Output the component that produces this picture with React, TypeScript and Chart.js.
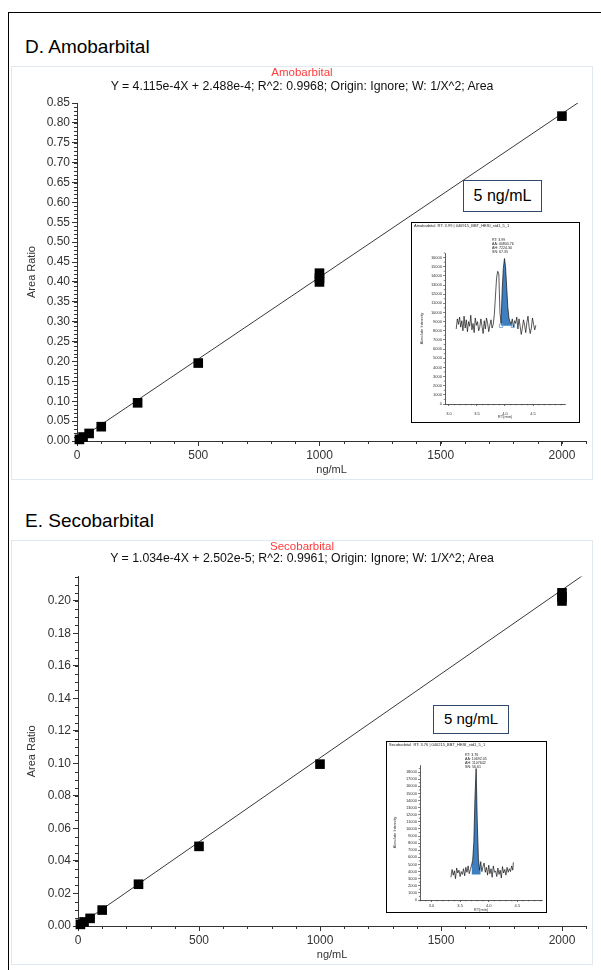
import React, { useEffect, useRef } from 'react';
import { Chart, registerables } from 'chart.js';
Chart.register(...registerables);

const FONT = '"Liberation Sans", Arial, Helvetica, sans-serif';
const AXIS = '#333';

// ---------- D. Amobarbital calibration ----------
const amoConc = [10, 25, 50, 100, 250, 500, 1000, 1000, 1000, 2000];
const amoRatio = [0.004, 0.010, 0.019, 0.036, 0.096, 0.196, 0.400, 0.410, 0.422, 0.817];
const amoFitX = [0, 2100];
const amoFitY = [0.000249, 0.864399];
const amoYTicks = [0, 0.05, 0.1, 0.15, 0.2, 0.25, 0.3, 0.35, 0.4, 0.45, 0.5, 0.55, 0.6, 0.65, 0.7, 0.75, 0.8, 0.85];
const calXTicks = [0, 500, 1000, 1500, 2000];

// ---------- E. Secobarbital calibration ----------
const secoConc = [10, 25, 50, 100, 250, 500, 1000, 2000, 2000, 2000];
const secoRatio = [0.001, 0.0025, 0.0047, 0.0098, 0.0257, 0.049, 0.0996, 0.200, 0.2025, 0.205];
const secoFitX = [0, 2100];
const secoFitY = [0.000025, 0.217165];
const secoYTicks = [0, 0.02, 0.04, 0.06, 0.08, 0.1, 0.12, 0.14, 0.16, 0.18, 0.2];

// ---------- Inset chromatogram: Amobarbital 5 ng/mL ----------
const amoRT = [3.13, 3.15, 3.17, 3.19, 3.21, 3.23, 3.25, 3.27, 3.29, 3.31, 3.33, 3.35, 3.37, 3.39, 3.41, 3.43, 3.45, 3.47, 3.49, 3.51, 3.53, 3.55, 3.57, 3.59, 3.61, 3.63, 3.65, 3.67, 3.69, 3.71, 3.73, 3.75, 3.77, 3.79, 3.81, 3.83, 3.85, 3.87, 3.89, 3.91, 3.93, 3.95, 3.97, 3.99, 4.01, 4.03, 4.05, 4.07, 4.09, 4.11, 4.13, 4.15, 4.17, 4.19, 4.21, 4.23, 4.25, 4.27, 4.29, 4.31, 4.33, 4.35, 4.37, 4.39, 4.41, 4.43, 4.45, 4.47, 4.49, 4.51, 4.53, 4.55];
const amoInt = [8200, 9300, 8700, 9500, 8400, 9100, 8000, 9600, 8300, 9200, 7900, 9000, 8500, 9700, 8100, 8800, 7800, 9400, 8600, 9000, 8000, 8400, 9300, 8500, 7700, 9100, 8200, 9400, 8800, 7900, 8600, 9200, 8300, 8700, 9800, 11800, 13800, 14500, 14200, 10000, 8800, 12500, 14800, 15900, 15000, 12800, 10600, 9400, 9000, 8700, 9300, 8400, 9100, 8800, 9500, 8200, 9300, 8500, 7600, 8300, 9200, 8600, 7800, 8900, 9600, 8400, 7700, 8300, 9400, 8700, 8100, 8600];
const amoPeakRT = [3.93, 3.95, 3.97, 3.99, 4.01, 4.03, 4.05, 4.07, 4.09, 4.11, 4.13];
const amoPeakInt = [8800, 12500, 14800, 15900, 15000, 12800, 10600, 9400, 9000, 8700, 9300];
const amoPeakBase = 8550;
const amoMarkRT = [3.93, 4.14];
const amoMarkInt = [8550, 8550];
const amoInsetYTicks = [0, 1000, 2000, 3000, 4000, 5000, 6000, 7000, 8000, 9000, 10000, 11000, 12000, 13000, 14000, 15000, 16000];
const insetXTicks = [3.0, 3.5, 4.0, 4.5];
const amoHeader = 'Amobarbital  RT: 3.99 | 040915_BBT_HESI_std1_5_1';
const amoNotes = ['RT: 3.99', 'AA: 40800.76', 'AH: 7224.30', 'SN: 67.35'];

// ---------- Inset chromatogram: Secobarbital 5 ng/mL ----------
const secoRT = [3.34, 3.36, 3.38, 3.40, 3.42, 3.44, 3.46, 3.48, 3.50, 3.52, 3.54, 3.56, 3.58, 3.60, 3.62, 3.64, 3.66, 3.68, 3.70, 3.72, 3.74, 3.76, 3.78, 3.80, 3.82, 3.84, 3.86, 3.88, 3.90, 3.92, 3.94, 3.96, 3.98, 4.00, 4.02, 4.04, 4.06, 4.08, 4.10, 4.12, 4.14, 4.16, 4.18, 4.20, 4.22, 4.24, 4.26, 4.28, 4.30, 4.32, 4.34, 4.36, 4.38, 4.40, 4.42, 4.43];
const secoInt = [3200, 4300, 3500, 4100, 3000, 4500, 3800, 4200, 3300, 4000, 3600, 4400, 3400, 4600, 3900, 4800, 3700, 4300, 4900, 5600, 8200, 14500, 18500, 11000, 5800, 4200, 5400, 4000, 4700, 5200, 3900, 4600, 3500, 4900, 3700, 4400, 3200, 4800, 3900, 4100, 3300, 4500, 3600, 4200, 3100, 4700, 3800, 4300, 3500, 4600, 3900, 4400, 4000, 4800, 4200, 5300];
const secoPeakRT = [3.70, 3.72, 3.74, 3.76, 3.78, 3.80, 3.82, 3.84, 3.86];
const secoPeakInt = [4900, 5600, 8200, 14500, 18500, 11000, 5800, 4200, 5400];
const secoPeakBase = 3600;
const secoInsetYTicks = [0, 1000, 2000, 3000, 4000, 5000, 6000, 7000, 8000, 9000, 10000, 11000, 12000, 13000, 14000, 15000, 16000, 17000, 18000];
const secoHeader = 'Secobarbital  RT: 3.76 | 040215_BBT_HESI_std1_5_1';
const secoNotes = ['RT: 3.76', 'AA: 10692.05', 'AH: 1107642', 'SN: 56.61'];

const pts = (xs: number[], ys: number[]) => xs.map((x, i) => ({ x, y: ys[i] }));

type CalParams = {
  conc: number[]; ratio: number[]; fitX: number[]; fitY: number[];
  yMax: number; yTicks: number[]; yMinorStep: number;
  padTop: number; padRight: number; yWidth: number; xHeight: number;
};

function buildCal(canvas: HTMLCanvasElement, p: CalParams) {
  const minor = {
    id: 'minorTicks',
    beforeDatasetsDraw(chart: any) {
      const { ctx } = chart;
      const xs = chart.scales.x, ys = chart.scales.y;
      ctx.save();
      ctx.strokeStyle = AXIS;
      ctx.lineWidth = 1;
      ctx.beginPath();
      for (let i = 0; i <= 21; i++) {
        const px = Math.round(xs.getPixelForValue(i * 100)) + 0.5;
        ctx.moveTo(px, xs.top);
        ctx.lineTo(px, xs.top + 3);
      }
      const n = Math.round(p.yMax / p.yMinorStep + 1e-6);
      for (let i = 0; i <= n; i++) {
        const py = Math.round(ys.getPixelForValue(i * p.yMinorStep)) + 0.5;
        ctx.moveTo(ys.right - 3, py);
        ctx.lineTo(ys.right, py);
      }
      ctx.stroke();
      ctx.restore();
    },
  };
  return new Chart(canvas, {
    type: 'scatter',
    data: {
      datasets: [
        {
          data: pts(p.fitX, p.fitY),
          showLine: true,
          borderColor: '#3a3a3a',
          borderWidth: 1,
          pointRadius: 0,
          order: 2,
        },
        {
          data: pts(p.conc, p.ratio),
          pointStyle: 'rect',
          pointRadius: 6.8,
          backgroundColor: '#000',
          borderColor: '#000',
          borderWidth: 0,
          clip: false,
          order: 1,
        },
      ],
    },
    options: {
      animation: false,
      responsive: false,
      events: [],
      layout: { padding: { left: 0, right: p.padRight, top: p.padTop, bottom: 0 } },
      plugins: { legend: { display: false }, tooltip: { enabled: false } },
      scales: {
        x: {
          type: 'linear',
          min: 0,
          max: 2100,
          afterBuildTicks: (s: any) => { s.ticks = calXTicks.map((v) => ({ value: v })); },
          afterFit: (s: any) => { s.height = p.xHeight; },
          grid: { drawOnChartArea: false, drawTicks: true, tickLength: 5, color: AXIS },
          border: { display: true, color: AXIS, width: 1 },
          ticks: { font: { family: FONT, size: 12 }, color: '#333', padding: 2, maxRotation: 0, autoSkip: false, callback: (v: any) => String(v) },
          title: { display: true, text: 'ng/mL', font: { family: FONT, size: 11 }, color: '#333', padding: { top: 0, bottom: 3 } },
        },
        y: {
          type: 'linear',
          min: 0,
          max: p.yMax,
          afterBuildTicks: (s: any) => { s.ticks = p.yTicks.map((v) => ({ value: v })); },
          afterFit: (s: any) => { s.width = p.yWidth; },
          grid: { drawOnChartArea: false, drawTicks: true, tickLength: 5, color: AXIS },
          border: { display: true, color: AXIS, width: 1 },
          ticks: { font: { family: FONT, size: 12 }, color: '#333', padding: 2, autoSkip: false, callback: (v: any) => Number(v).toFixed(2) },
          title: { display: true, text: 'Area Ratio', font: { family: FONT, size: 11 }, color: '#333', padding: { top: 14, bottom: 0 } },
        },
      },
    },
    plugins: [minor],
  } as any);
}

type InsetParams = {
  rt: number[]; inten: number[]; peakRT: number[]; peakInt: number[]; base: number;
  markRT: number[]; markInt: number[];
  xMin: number; xMax: number; yMax: number; yTicks: number[];
  padTop: number; padRight: number; yWidth: number; xHeight: number;
  xTickPad: number; xTitlePad: number; yTitlePad: number;
  header: string; headerY: number; notes: string[]; notesX: number; notesY: number;
};

function buildInset(canvas: HTMLCanvasElement, p: InsetParams) {
  const deco = {
    id: 'insetDeco',
    beforeDatasetsDraw(chart: any) {
      const { ctx } = chart;
      const xs = chart.scales.x, ys = chart.scales.y;
      ctx.save();
      ctx.strokeStyle = AXIS;
      ctx.lineWidth = 0.6;
      ctx.beginPath();
      for (let v = Math.ceil(p.xMin * 10) / 10; v <= p.xMax + 1e-6; v += 0.1) {
        const px = xs.getPixelForValue(v);
        ctx.moveTo(px, xs.top);
        ctx.lineTo(px, xs.top + 1.3);
      }
      for (let v = 500; v <= p.yMax; v += 1000) {
        const py = ys.getPixelForValue(v);
        ctx.moveTo(ys.right - 1.2, py);
        ctx.lineTo(ys.right, py);
      }
      ctx.stroke();
      ctx.restore();
    },
    afterDraw(chart: any) {
      const { ctx } = chart;
      ctx.save();
      ctx.fillStyle = '#222';
      ctx.textBaseline = 'middle';
      ctx.font = `4px ${FONT}`;
      ctx.fillText(p.header, 2, p.headerY);
      ctx.font = `3.6px ${FONT}`;
      p.notes.forEach((t, i) => ctx.fillText(t, p.notesX, p.notesY + i * 4));
      ctx.restore();
    },
  };
  return new Chart(canvas, {
    type: 'line',
    data: {
      datasets: [
        {
          data: pts(p.rt, p.inten),
          borderColor: '#111',
          borderWidth: 0.7,
          pointRadius: 0,
          tension: 0,
          fill: false,
          order: 0,
        },
        {
          data: pts(p.peakRT, p.peakInt),
          borderColor: 'rgba(0,0,0,0)',
          borderWidth: 0,
          backgroundColor: '#3f7fc0',
          pointRadius: 0,
          tension: 0,
          fill: { value: p.base },
          order: 1,
        },
        {
          data: pts(p.markRT, p.markInt),
          showLine: false,
          pointStyle: 'rect',
          pointRadius: 2.4,
          borderColor: '#5b9bd5',
          backgroundColor: 'rgba(255,255,255,0)',
          borderWidth: 0.8,
          order: -1,
        },
      ],
    },
    options: {
      animation: false,
      responsive: false,
      events: [],
      layout: { padding: { left: 0, right: p.padRight, top: p.padTop, bottom: 0 } },
      plugins: { legend: { display: false }, tooltip: { enabled: false } },
      scales: {
        x: {
          type: 'linear',
          min: p.xMin,
          max: p.xMax,
          afterBuildTicks: (s: any) => { s.ticks = insetXTicks.map((v) => ({ value: v })); },
          afterFit: (s: any) => { s.height = p.xHeight; },
          grid: { drawOnChartArea: false, drawTicks: true, tickLength: 2, color: AXIS, lineWidth: 0.6 },
          border: { display: true, color: AXIS, width: 0.8 },
          ticks: { font: { family: FONT, size: 4 }, color: '#333', padding: p.xTickPad, maxRotation: 0, autoSkip: false, callback: (v: any) => Number(v).toFixed(1) },
          title: { display: true, text: 'RT(min)', font: { family: FONT, size: 4 }, color: '#333', padding: { top: 0, bottom: p.xTitlePad } },
        },
        y: {
          type: 'linear',
          min: 0,
          max: p.yMax,
          afterBuildTicks: (s: any) => { s.ticks = p.yTicks.map((v) => ({ value: v })); },
          afterFit: (s: any) => { s.width = p.yWidth; },
          grid: { drawOnChartArea: false, drawTicks: true, tickLength: 2, color: AXIS, lineWidth: 0.6 },
          border: { display: true, color: AXIS, width: 0.8 },
          ticks: { font: { family: FONT, size: 4 }, color: '#333', padding: 1, autoSkip: false, callback: (v: any) => String(v) },
          title: { display: true, text: 'Absolute Intensity', font: { family: FONT, size: 4 }, color: '#333', padding: { top: p.yTitlePad, bottom: 0 } },
        },
      },
    },
    plugins: [deco],
  } as any);
}

function ChartCanvas({ left, top, width, height, build }: { left: number; top: number; width: number; height: number; build: (c: HTMLCanvasElement) => Chart }) {
  const ref = useRef<HTMLCanvasElement>(null);
  useEffect(() => {
    const c = build(ref.current as HTMLCanvasElement);
    return () => c.destroy();
  }, []);
  return <canvas ref={ref} width={width} height={height} style={{ position: 'absolute', left, top, width, height, display: 'block' }} />;
}

const abs = (left: number, top: number, extra: React.CSSProperties = {}): React.CSSProperties => ({ position: 'absolute', left, top, ...extra });

export default function App() {
  return (
    <div style={{ position: 'fixed', left: 0, top: 0, width: 601, height: 970, overflow: 'hidden', background: '#fff', fontFamily: FONT, color: '#000' }}>
      <div style={abs(8, 12, { width: 700, height: 1000, borderLeft: '1.5px solid #000', borderTop: '1.5px solid #000' })} />

      {/* Panel D */}
      <div style={abs(25, 35, { fontSize: 19, lineHeight: '24px', whiteSpace: 'nowrap' })}>D. Amobarbital</div>
      <div style={abs(11, 66, { width: 582, height: 414, border: '1px solid #e2e8f0', boxSizing: 'border-box' })} />
      <ChartCanvas left={11} top={66} width={582} height={414} build={(c) => buildCal(c, {
        conc: amoConc, ratio: amoRatio, fitX: amoFitX, fitY: amoFitY,
        yMax: 0.85, yTicks: amoYTicks, yMinorStep: 0.01,
        padTop: 37, padRight: 6, yWidth: 66, xHeight: 39,
      })} />
      <div style={abs(11, 66, { width: 582, textAlign: 'center', fontSize: 11.5, lineHeight: '13px', color: '#ff3b3b' })}>Amobarbital</div>
      <div style={abs(11, 79, { width: 582, textAlign: 'center', fontSize: 12.3, lineHeight: '14px', color: '#111' })}>Y = 4.115e-4X + 2.488e-4; R^2: 0.9968; Origin: Ignore; W: 1/X^2; Area</div>

      <div style={abs(463, 180, { width: 79, height: 32, border: '1.5px solid #2f4a6b', boxSizing: 'border-box', background: '#fff', fontSize: 16, lineHeight: '29px', textAlign: 'center' })}>5 ng/mL</div>
      <div style={abs(411, 222, { width: 169, height: 201, border: '1px solid #000', boxSizing: 'border-box', background: '#fff' })}>
        <ChartCanvas left={0} top={0} width={167} height={199} build={(c) => buildInset(c, {
          rt: amoRT, inten: amoInt, peakRT: amoPeakRT, peakInt: amoPeakInt, base: amoPeakBase,
          markRT: amoMarkRT, markInt: amoMarkInt,
          xMin: 2.93, xMax: 5.07, yMax: 16500, yTicks: amoInsetYTicks,
          padTop: 30, padRight: 14, yWidth: 33, xHeight: 18,
          xTickPad: 5, xTitlePad: 2.6, yTitlePad: 7.6,
          header: amoHeader, headerY: 3, notes: amoNotes, notesX: 80, notesY: 17,
        })} />
      </div>

      {/* Panel E */}
      <div style={abs(25, 509, { fontSize: 19, lineHeight: '24px', whiteSpace: 'nowrap' })}>E. Secobarbital</div>
      <div style={abs(11, 540, { width: 582, height: 425, border: '1px solid #e2e8f0', boxSizing: 'border-box' })} />
      <ChartCanvas left={11} top={540} width={582} height={425} build={(c) => buildCal(c, {
        conc: secoConc, ratio: secoRatio, fitX: secoFitX, fitY: secoFitY,
        yMax: 0.215, yTicks: secoYTicks, yMinorStep: 0.005,
        padTop: 36.6, padRight: 2.6, yWidth: 67, xHeight: 39,
      })} />
      <div style={abs(11, 540, { width: 582, textAlign: 'center', fontSize: 11.5, lineHeight: '13px', color: '#ff3b3b' })}>Secobarbital</div>
      <div style={abs(11, 551, { width: 582, textAlign: 'center', fontSize: 12.3, lineHeight: '14px', color: '#111' })}>Y = 1.034e-4X + 2.502e-5; R^2: 0.9961; Origin: Ignore; W: 1/X^2; Area</div>

      <div style={abs(433, 705, { width: 76, height: 29, border: '1.5px solid #2f4a6b', boxSizing: 'border-box', background: '#fff', fontSize: 15, lineHeight: '26px', textAlign: 'center' })}>5 ng/mL</div>
      <div style={abs(386, 741, { width: 161, height: 172, border: '1px solid #000', boxSizing: 'border-box', background: '#fff' })}>
        <ChartCanvas left={0} top={0} width={159} height={170} build={(c) => buildInset(c, {
          rt: secoRT, inten: secoInt, peakRT: secoPeakRT, peakInt: secoPeakInt, base: secoPeakBase,
          markRT: [], markInt: [],
          xMin: 2.8, xMax: 4.93, yMax: 19000, yTicks: secoInsetYTicks,
          padTop: 23, padRight: 4, yWidth: 33, xHeight: 12,
          xTickPad: 1, xTitlePad: 0, yTitlePad: 5.6,
          header: secoHeader, headerY: 2.5, notes: secoNotes, notesX: 78, notesY: 13,
        })} />
      </div>
    </div>
  );
}
